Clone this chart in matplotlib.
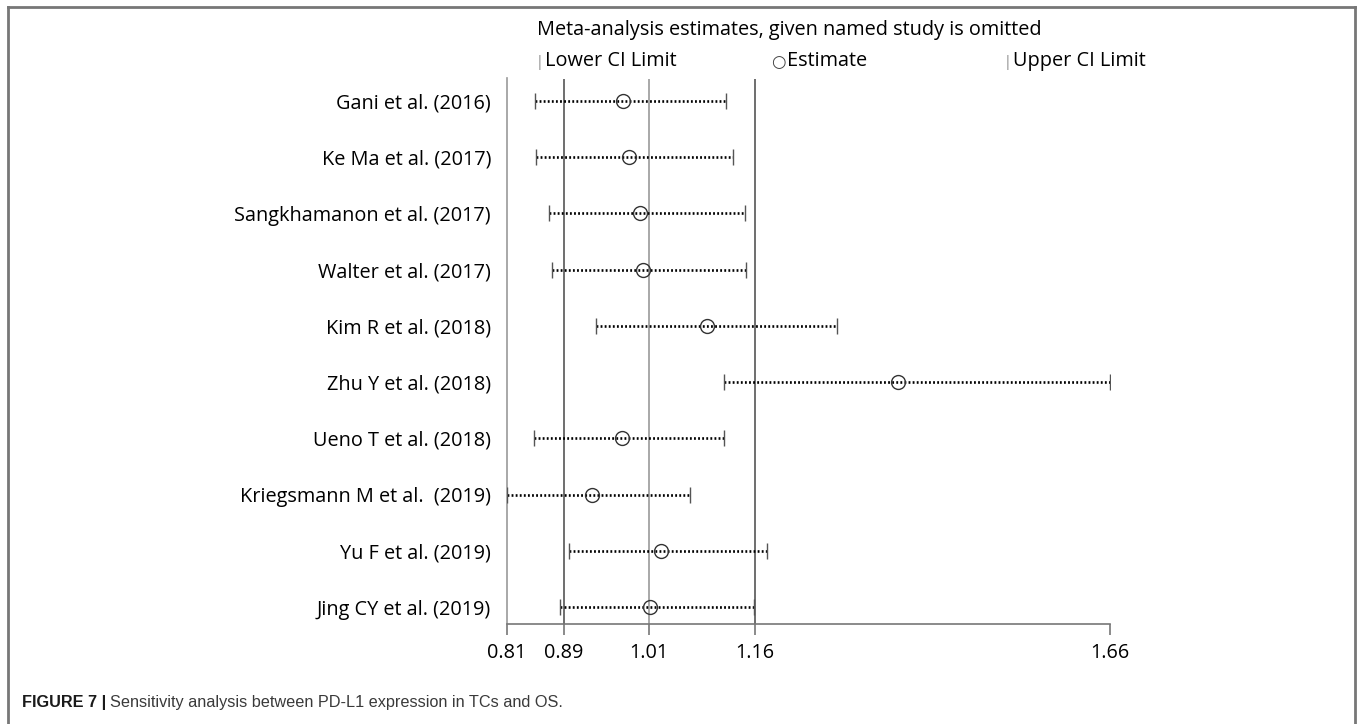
import matplotlib
matplotlib.use("Agg")
import matplotlib.pyplot as plt
from matplotlib.lines import Line2D

studies = ["Gani et al. (2016)", "Ke Ma et al. (2017)", "Sangkhamanon et al. (2017)",
           "Walter et al. (2017)", "Kim R et al. (2018)", "Zhu Y et al. (2018)",
           "Ueno T et al. (2018)", "Kriegsmann M et al.  (2019)", "Yu F et al. (2019)",
           "Jing CY et al. (2019)"]
lower = [0.849, 0.851, 0.869, 0.873, 0.935, 1.116, 0.848, 0.810, 0.897, 0.885]
estimate = [0.973, 0.982, 0.997, 1.002, 1.092, 1.361, 0.972, 0.930, 1.027, 1.012]
upper = [1.119, 1.129, 1.145, 1.147, 1.275, 1.660, 1.116, 1.068, 1.176, 1.158]
ref_lines = [0.89, 1.01, 1.16]
xticks = [0.81, 0.89, 1.01, 1.16, 1.66]
xticklabels = ["0.81", "0.89", "1.01", "1.16", "1.66"]

W, H = 1357, 724
fig = plt.figure(figsize=(W / 100, H / 100), dpi=100)
FONT = ["Open Sans", "DejaVu Sans"]
FS = 14.3

# axes placement (pixels)
left_px, right_px = 507, 1110
top_px, bottom_px = 78.5, 624
ax = fig.add_axes([left_px / W, 1 - bottom_px / H, (right_px - left_px) / W, (bottom_px - top_px) / H])
ax.set_xlim(0.81, 1.66)
n = len(studies)
ax.set_ylim(n - 1 + 0.3, -0.4)

for s in ["top", "right"]:
    ax.spines[s].set_visible(False)
ax.spines["left"].set_color("#999999")
ax.spines["left"].set_linewidth(1.2)
ax.spines["bottom"].set_color("#777777")
ax.spines["bottom"].set_linewidth(1.2)

for i, v in enumerate(ref_lines):
    ax.axvline(v, color="#999999" if i == 1 else "#555555", lw=1.2, zorder=1)

ys = list(range(n))
for y, lo, est, hi in zip(ys, lower, estimate, upper):
    ax.plot([lo, hi], [y, y], color="black", lw=1.9, linestyle=(0, (0.7, 0.85)),
            dash_capstyle="butt", zorder=3)
    ax.plot([lo, hi], [y, y], ls="none", marker="|", markersize=12,
            markeredgewidth=1.0, color="#555555", zorder=3)
ax.plot(estimate, ys, ls="none", marker="o", markersize=10, markerfacecolor="none",
        markeredgecolor="#333333", markeredgewidth=1.0, zorder=4)

ax.set_xticks(xticks)
ax.set_xticklabels(xticklabels, fontsize=FS, family=FONT, color="black")
ax.tick_params(axis="x", length=8, width=1.2, color="#777777", pad=6)
ax.set_yticks(ys)
ax.set_yticklabels(studies, fontsize=FS, family=FONT, color="black")
ax.tick_params(axis="y", length=0, pad=11.5)

# header
fig.text(537 / W, 1 - 30 / H, "Meta-analysis estimates, given named study is omitted",
         fontsize=FS, family=FONT, ha="left", va="center", color="black")
ly = 1 - 61 / H
fig.text(536 / W, ly - 2 / H, "|", fontsize=10, family=FONT, ha="left", va="center", color="#888888")
fig.text(545 / W, ly, "Lower CI Limit", fontsize=FS, family=FONT, ha="left", va="center", color="black")
fig.text(771 / W, ly - 1 / H, "\u25cb", fontsize=12, family=["DejaVu Sans"], ha="left", va="center", color="#444444")
fig.text(787 / W, ly, "Estimate", fontsize=FS, family=FONT, ha="left", va="center", color="black")
fig.text(1004 / W, ly - 2 / H, "|", fontsize=10, family=FONT, ha="left", va="center", color="#888888")
fig.text(1013 / W, ly, "Upper CI Limit", fontsize=FS, family=FONT, ha="left", va="center", color="black")

# caption
cy = 1 - 703 / H
CFS = 11.7
t1 = fig.text(22 / W, cy, "FIGURE 7 |", fontsize=CFS, family=["Liberation Sans", "DejaVu Sans"],
              weight="bold", ha="left", va="center", color="#1a1a1a")
fig.canvas.draw()
bb = t1.get_window_extent(fig.canvas.get_renderer())
fig.text((bb.x1 + 4) / W, cy, "Sensitivity analysis between PD-L1 expression in TCs and OS.",
         fontsize=CFS, family=["Liberation Sans", "DejaVu Sans"], ha="left", va="center",
         color="#3a3a3a")

# frame
fc = "#777777"
fig.add_artist(Line2D([8 / W, 8 / W], [0, 1 - 7 / H], transform=fig.transFigure, color=fc, lw=2))
fig.add_artist(Line2D([8 / W, 1355 / W], [1 - 7 / H, 1 - 7 / H], transform=fig.transFigure, color=fc, lw=2))
fig.add_artist(Line2D([1355 / W, 1355 / W], [0, 1 - 7 / H], transform=fig.transFigure, color=fc, lw=2))

fig.savefig("out.png", dpi=100)
